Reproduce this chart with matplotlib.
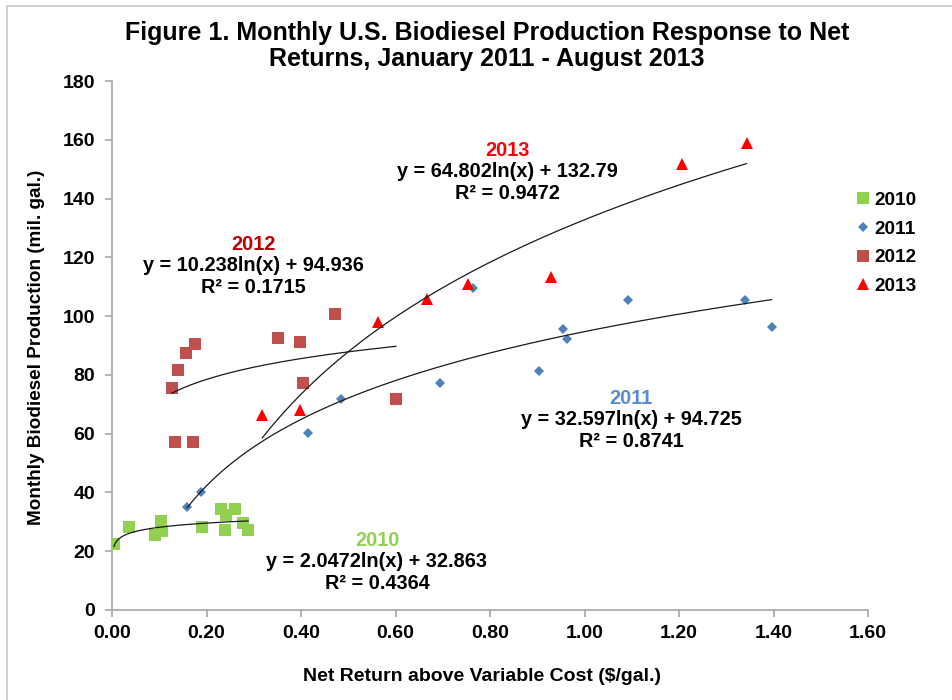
import numpy as np
import matplotlib
matplotlib.use("Agg")
import matplotlib.pyplot as plt
from matplotlib.patches import Rectangle

plt.rcParams['font.family'] = ['Liberation Sans', 'DejaVu Sans']
plt.rcParams['font.weight'] = 'bold'

# ---- data ----
x2010 = [0.004, 0.035, 0.091, 0.104, 0.105, 0.191, 0.230, 0.241, 0.260, 0.239, 0.278, 0.288]
y2010 = [22.4, 28.1, 25.5, 30.4, 27.0, 28.1, 34.3, 32.3, 34.3, 27.2, 29.5, 27.2]

x2011 = [0.159, 0.188, 0.415, 0.484, 0.694, 0.765, 0.903, 0.955, 0.964, 1.093, 1.340, 1.396]
y2011 = [35.1, 40.2, 60.3, 71.7, 77.1, 109.4, 81.4, 95.5, 92.2, 105.4, 105.4, 96.2]

x2012 = [0.126, 0.139, 0.156, 0.176, 0.133, 0.171, 0.351, 0.398, 0.405, 0.471, 0.601]
y2012 = [75.6, 81.6, 87.3, 90.5, 57.3, 57.3, 92.4, 91.3, 77.3, 100.6, 71.7]

x2013 = [0.318, 0.398, 0.564, 0.667, 0.754, 0.930, 1.206, 1.343]
y2013 = [66.3, 68.0, 98.1, 105.7, 110.9, 113.2, 151.9, 158.9]

# log trend coefficients (slope, intercept, R^2)
fit2010 = (2.0472, 32.863, 0.4364)
fit2011 = (32.597, 94.725, 0.8741)
fit2012 = (10.238, 94.936, 0.1715)
fit2013 = (64.802, 132.79, 0.9472)

xticks = [0.0, 0.2, 0.4, 0.6, 0.8, 1.0, 1.2, 1.4, 1.6]
yticks = [0, 20, 40, 60, 80, 100, 120, 140, 160, 180]

c2010, c2011, c2012, c2013 = '#92D050', '#4F81BD', '#C0504D', '#FF0000'

fig = plt.figure(figsize=(9.52, 7.0), dpi=100)
ax = fig.add_axes([112/952, 1-610/700, (868-112)/952, (610-81)/700])

# outer frame
fig.patches.append(Rectangle((7/952, -0.1), 1.2, 1-6/700+0.1, transform=fig.transFigure,
                             fill=False, edgecolor='#C8C8C8', lw=1.2))

series = [
    ('2010', x2010, y2010, fit2010, c2010, 's', 8.5),
    ('2011', x2011, y2011, fit2011, c2011, 'D', 5.5),
    ('2012', x2012, y2012, fit2012, c2012, 's', 8.0),
    ('2013', x2013, y2013, fit2013, c2013, '^', 8.0),
]
handles = []
for name, xs, ys, fit, col, mk, ms in series:
    h, = ax.plot(xs, ys, linestyle='none', marker=mk, color=col, markersize=ms,
                 markeredgewidth=0, label=name, zorder=3)
    handles.append(h)
    xx = np.linspace(min(xs), max(xs), 200)
    ax.plot(xx, fit[0]*np.log(xx) + fit[1], color='#1a1a1a', lw=0.9, zorder=4)

ax.set_xlim(0, 1.6)
ax.set_ylim(0, 180)
ax.set_xticks(xticks)
ax.set_xticklabels([f'{v:.2f}' for v in xticks])
ax.set_yticks(yticks)
for s in ['top', 'right']:
    ax.spines[s].set_visible(False)
for s in ['left', 'bottom']:
    ax.spines[s].set_color('#A6A6A6')
    ax.spines[s].set_linewidth(1.2)
ax.tick_params(axis='both', direction='out', color='#A6A6A6', length=5, width=1.2,
               labelsize=14)
ax.tick_params(axis='x', pad=6)
ax.tick_params(axis='y', pad=7)
for lab in ax.get_xticklabels() + ax.get_yticklabels():
    lab.set_fontweight('bold')

ax.set_xlabel('Net Return above Variable Cost ($/gal.)', fontsize=14, fontweight='bold')
ax.set_ylabel('Monthly Biodiesel Production (mil. gal.)', fontsize=13.6, fontweight='bold')
ax.xaxis.set_label_coords((482-112)/756, -(668-610)/529)
ax.yaxis.set_label_coords(-(112-45)/756, (610-347)/529)

fig.text(487/952, 1-46/700, 'Figure 1. Monthly U.S. Biodiesel Production Response to Net\nReturns, January 2011 - August 2013',
         ha='center', va='center', fontsize=18, fontweight='bold', linespacing=1.15)

def px2x(px):
    return (px - 112) / 472.5

def py2y(py):
    return (610 - py) / (529/180)

# annotations (data coords)
def annot(xc, yc_label, name, fit, col):
    ax.text(xc, yc_label, name, color=col, ha='center', va='center', fontsize=14.3, fontweight='bold')
    ax.text(xc, yc_label - 7.4, f'y = {fit[0]}ln(x) + {fit[1]}', color='black', ha='center', va='center',
            fontsize=14.3, fontweight='bold')
    ax.text(xc, yc_label - 14.8, f'R² = {fit[2]}', color='black', ha='center', va='center',
            fontsize=14.3, fontweight='bold')

annot(px2x(507), py2y(150), '2013', fit2013, '#FF0000')
annot(px2x(253), py2y(244), '2012', fit2012, '#C00000')
annot(px2x(631), py2y(398), '2011', fit2011, '#558ED5')
annot(px2x(377), py2y(540), '2010', fit2010, '#92D050')

leg = fig.legend(handles=handles, loc='upper left', bbox_to_anchor=(850/952, 1-184/700),
                 frameon=False, fontsize=13.7, handlelength=0.6, handletextpad=0.3,
                 labelspacing=0.6, borderaxespad=0)
for t in leg.get_texts():
    t.set_fontweight('bold')

fig.savefig('out.png', dpi=100)
